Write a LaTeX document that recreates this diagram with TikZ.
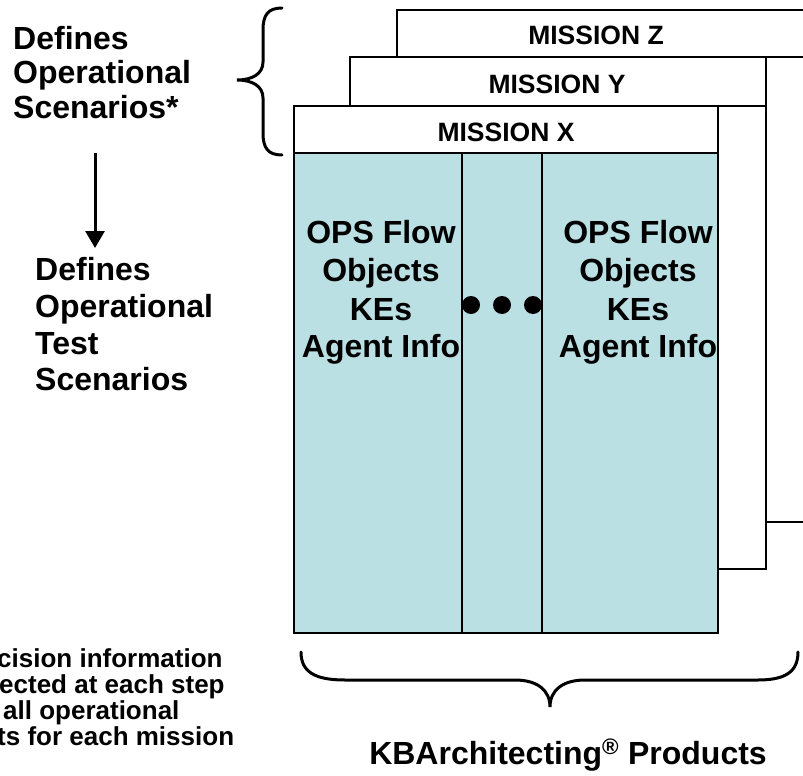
\documentclass[tikz,border=0pt]{standalone}
\usepackage{fontspec}
\setmainfont{Liberation Sans}
\usetikzlibrary{arrows.meta}
\definecolor{panelblue}{HTML}{BBE0E3}
\begin{document}
\begin{tikzpicture}[x=1pt,y=-1pt,
  frame/.style={draw=black,line width=2pt,fill=white},
  panel/.style={draw=black,line width=2pt,fill=panelblue},
  divider/.style={draw=black,line width=1.5pt},
  brace/.style={draw=black,line width=3pt,line cap=round},
  bigtext/.style={font=\fontsize{32}{36}\selectfont\bfseries,inner sep=0pt},
  headtext/.style={font=\fontsize{26.5}{30}\selectfont\bfseries,inner sep=0pt},
  notetext/.style={font=\fontsize{26}{29}\selectfont\bfseries,inner sep=0pt,anchor=base west},
  dot/.style={circle,fill=black,inner sep=0pt,minimum size=18pt}
]
\useasboundingbox (0,0) rectangle (803,776);
\begin{scope}
\clip (0,0) rectangle (803,776);
% Mission Z
\draw[frame] (397,10) rectangle (830,522);
\draw[frame] (397,10) rectangle (830,57);
\node[headtext] (hz) at (596,35) {MISSION Z};
% Mission Y
\draw[frame] (350,57) rectangle (766,569);
\draw[frame] (350,57) rectangle (766,106);
\node[headtext] (hy) at (557,84) {MISSION Y};
\end{scope}
% Mission X
\draw[frame] (294,106) rectangle (718,153);
\node[headtext] (hx) at (506,132) {MISSION X};
\draw[panel] (294,153) rectangle (718,633);
\draw[divider] (462,153) -- (462,633);
\draw[divider] (542,153) -- (542,633);
% column texts
\node[bigtext,anchor=base] (l1) at (381,243) {OPS Flow};
\node[bigtext,anchor=base] (l2) at (381,281) {Objects};
\node[bigtext,anchor=base] (l3) at (381,320) {KEs};
\node[bigtext,anchor=base] (l4) at (381,357) {Agent Info};
\node[bigtext,anchor=base] (r1) at (638,243) {OPS Flow};
\node[bigtext,anchor=base] (r2) at (638,281) {Objects};
\node[bigtext,anchor=base] (r3) at (638,320) {KEs};
\node[bigtext,anchor=base] (r4) at (638,357) {Agent Info};
\node[dot] (d1) at (471,305) {};
\node[dot] (d2) at (502,305) {};
\node[dot] (d3) at (533,305) {};
% left brace
\draw[brace] (282,8) .. controls (268,8) and (263,15) .. (263,30) -- (263,62)
  .. controls (263,74) and (252,80) .. (237,80)
  .. controls (252,80) and (263,86) .. (263,98) -- (263,133)
  .. controls (263,148) and (268,155) .. (282,155);
% bottom brace
\draw[brace] (301,652) .. controls (301,672) and (315,680) .. (345,680) -- (515,680)
  .. controls (537,680) and (550,690) .. (550,707)
  .. controls (550,690) and (563,680) .. (585,680) -- (758,680)
  .. controls (785,680) and (798,672) .. (798,652);
% left texts
\node[bigtext,anchor=base west] (a1) at (13,50) {Defines};
\node[bigtext,anchor=base west] (a2) at (13,84) {Operational};
\node[bigtext,anchor=base west] (a3) at (13,118) {Scenarios*};
\coordinate (arrtop) at (95,153);
\coordinate (arrtip) at (95,248);
\draw[line width=3pt,-{Triangle[width=19pt,length=17pt]}] (arrtop) -- (arrtip);
\node[bigtext,anchor=base west] (b1) at (35,280) {Defines};
\node[bigtext,anchor=base west] (b2) at (35,317) {Operational};
\node[bigtext,anchor=base west] (b3) at (35,354) {Test};
\node[bigtext,anchor=base west] (b4) at (35,390) {Scenarios};
% bottom note (cut at left edge)
\node[notetext] (n1) at (-3,667) {cision information};
\node[notetext] (n2) at (-1,693) {ected at each step};
\node[notetext] (n3) at (3,719) {all operational};
\node[notetext] (n4) at (-3,745) {ts for each mission};
% products label
\node[bigtext,anchor=base] (kb) at (568,764) {KBArchitecting\textsuperscript{®} Products};
\end{tikzpicture}
\end{document}
